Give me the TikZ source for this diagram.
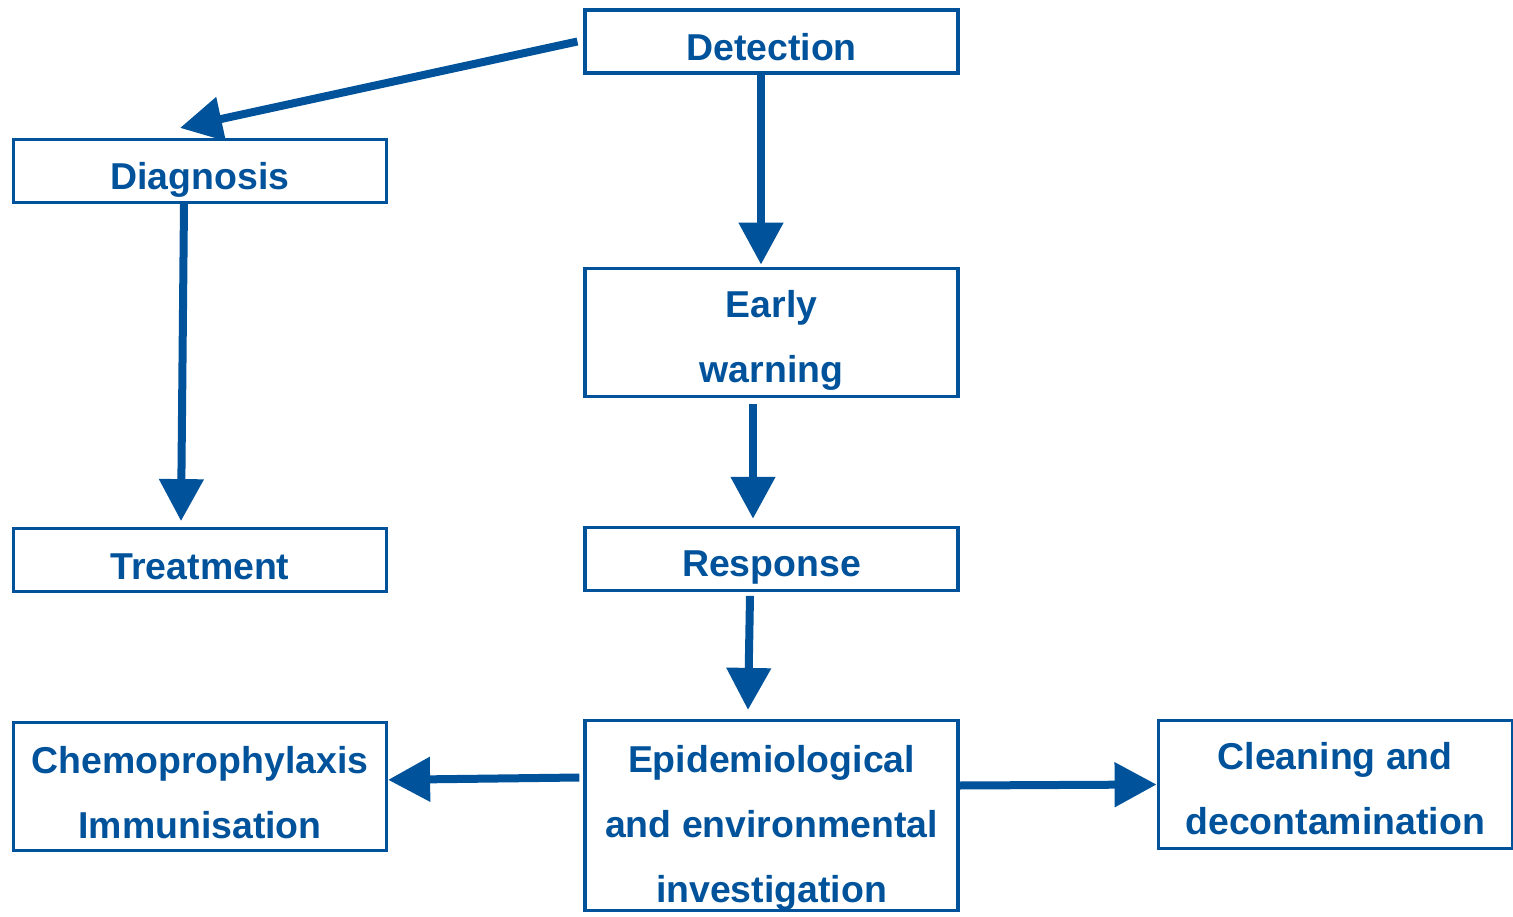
\documentclass[tikz,border=0pt]{standalone}
\usepackage{fontspec}
\setmainfont{Liberation Sans}
\usetikzlibrary{positioning,arrows.meta}
\definecolor{flowblue}{HTML}{00529B}
\newcommand{\liftby}[1]{\rule{0pt}{#1}}

\begin{document}
\begin{tikzpicture}[
        box/.style={draw=flowblue, line width=1.8pt, text=flowblue, align=center,
                    minimum width=7.46cm, minimum height=1.26cm, inner sep=0pt,
                    font=\fontsize{21.3}{37}\selectfont\bfseries},
        flow/.style={draw=flowblue, line width=0.16cm,
                     -{Triangle[length=0.84cm,width=0.86cm]}}
    ]
    \useasboundingbox (0,0) rectangle (30.26,-18.32);

    \node [box] (det) at (15.43,-0.83) {\liftby{22pt}Detection};
    \node [box, minimum height=2.56cm, below=3.84cm of det] (early) {\liftby{25pt}Early\\warning};
    \node [box, below=2.56cm of early] (resp) {\liftby{25pt}Response};
    \node [box, minimum height=3.8cm, below=2.54cm of resp] (epi) {\liftby{29pt}Epidemiological\\and environmental\\investigation};
    \node [box] (diag) at (4.0,-3.42) {\liftby{25pt}Diagnosis};
    \node [box, below=6.46cm of diag] (treat) {\liftby{22pt}Treatment};
    \node [box, minimum height=2.56cm, below=2.56cm of treat] (chemo) {\liftby{22pt}Chemoprophylaxis\\Immunisation};
    \node [box, minimum width=7.08cm, minimum height=2.56cm,
           right=3.94cm of epi.north east, anchor=north west] (clean) {\liftby{20pt}Cleaning and\\decontamination};

    \draw [flow] ([xshift=-0.12cm]det.west) -- ([xshift=-0.4cm,yshift=0.2cm]diag.north);
    \draw [flow] ([xshift=-0.32cm]diag.south) -- ([xshift=-0.38cm,yshift=0.12cm]treat.north);
    \draw [flow] ([xshift=-0.21cm]det.south) -- ([xshift=-0.21cm,yshift=0.04cm]early.north);
    \draw [flow] ([xshift=-0.37cm,yshift=-0.12cm]early.south) -- ([xshift=-0.37cm,yshift=0.14cm]resp.north);
    \draw [flow] ([xshift=-0.43cm,yshift=-0.08cm]resp.south) -- ([xshift=-0.47cm,yshift=0.18cm]epi.north);
    \draw [flow] ([xshift=-0.08cm,yshift=0.76cm]epi.west) -- ([yshift=0.14cm]chemo.east);
    \draw [flow] ([yshift=0.6cm]epi.east) -- (clean.west);
\end{tikzpicture}
\end{document}
